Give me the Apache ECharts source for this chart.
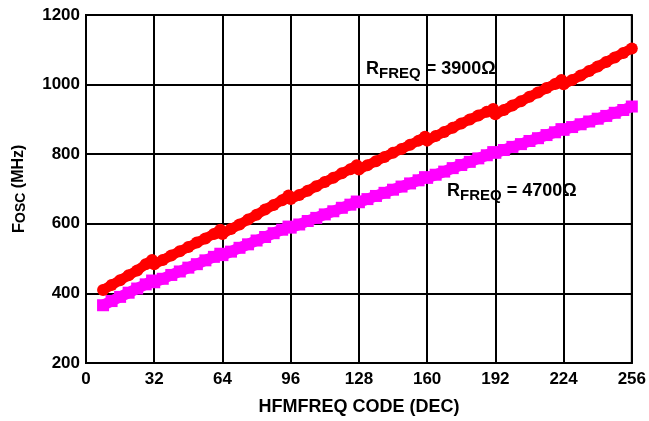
<!DOCTYPE html>
<html>
<head>
<meta charset="utf-8">
<script src="https://cdn.jsdelivr.net/npm/echarts@6/dist/echarts.min.js"></script>
<style>
html,body{margin:0;padding:0;background:#fff;}
#chart{width:649px;height:421px;}
</style>
</head>
<body>
<div id="chart"></div>
<script>
// HFMFREQ code values (DEC)
var codesR3900 = [8,12,16,20,24,28,31,32,36,40,44,48,52,56,60,63,64,68,72,76,80,84,88,92,95,96,100,104,108,112,116,120,124,127,128,132,136,140,144,148,152,156,159,160,164,168,172,176,180,184,188,191,192,196,200,204,208,212,216,220,223,224,228,232,236,240,244,248,252,256];
var fosc3900 = [410,424,438,452,466,484,496,484,496,509,521,533,546,558,571,583,571,585,598,612,626,641,654,668,681,671,683,695,708,720,732,745,757,768,756,768,780,792,804,815,827,839,850,839,852,864,876,888,900,911,922,930,915,927,940,952,965,977,990,1002,1013,1001,1013,1026,1039,1052,1065,1078,1091,1104];
var codesR4700 = [8,12,16,20,24,28,31,32,36,40,44,48,52,56,60,63,64,68,72,76,80,84,88,92,95,96,100,104,108,112,116,120,124,127,128,132,136,140,144,148,152,156,159,160,164,168,172,176,180,184,188,191,192,196,200,204,208,212,216,220,223,224,228,232,236,240,244,248,252,256];
var fosc4700 = [366,378,390,402,414,426,437,432,442,453,463,474,484,495,505,514,510,520,531,541,552,562,573,583,592,589,598,608,617,627,636,646,655,664,662,671,680,689,698,707,716,725,734,732,741,750,760,769,778,788,797,806,804,812,821,829,838,846,855,863,872,870,878,886,894,902,910,919,927,937];
var xTicks = [0,32,64,96,128,160,192,224,256];
var yTicks = [200,400,600,800,1000,1200];

function pairs(xs, ys){ return xs.map(function(x,i){ return [x, ys[i]]; }); }

var FONT = '"Liberation Sans", Arial, sans-serif';
var chart = echarts.init(document.getElementById('chart'), null, {renderer:'canvas'});
chart.setOption({
  animation:false,
  backgroundColor:'#ffffff',
  grid:{left:86,right:14,top:15,bottom:58,show:true,borderColor:'#000',borderWidth:2,backgroundColor:'transparent'},
  xAxis:{
    type:'value', min:xTicks[0], max:xTicks[xTicks.length-1], interval:32,
    name:'HFMFREQ CODE (DEC)', nameLocation:'middle', nameGap:35,
    nameTextStyle:{fontFamily:FONT,fontWeight:'bold',fontSize:18,color:'#000'},
    axisLine:{show:true,lineStyle:{color:'#000',width:2}},
    axisTick:{show:false},
    axisLabel:{fontFamily:FONT,fontWeight:'bold',fontSize:17,color:'#000',margin:8},
    splitLine:{show:true,lineStyle:{color:'#000',width:2}}
  },
  yAxis:{
    type:'value', min:yTicks[0], max:yTicks[yTicks.length-1], interval:200,
    name:'{F|F}{s|OSC}{u| (MHz)}', nameLocation:'middle', nameGap:58, nameRotate:90,
    nameTextStyle:{fontFamily:FONT,fontWeight:'bold',fontSize:16,color:'#000',
      rich:{
        F:{fontFamily:FONT,fontWeight:'bold',fontSize:17,color:'#000',lineHeight:17,verticalAlign:'top'},
        s:{fontFamily:FONT,fontWeight:'bold',fontSize:14,color:'#000',lineHeight:17,padding:[3,0,0,0],verticalAlign:'top'},
        u:{fontFamily:FONT,fontWeight:'bold',fontSize:16,color:'#000',lineHeight:17,verticalAlign:'top'}
      }},
    axisLine:{show:true,lineStyle:{color:'#000',width:2}},
    axisTick:{show:false},
    axisLabel:{fontFamily:FONT,fontWeight:'bold',fontSize:17,color:'#000',margin:6,
      formatter:function(v){ return String(v); }},
    splitLine:{show:true,lineStyle:{color:'#000',width:2}}
  },
  series:[
    {
      name:'RFREQ = 4700', type:'line', data:pairs(codesR4700, fosc4700),
      symbol:'rect', symbolSize:12, showSymbol:true,
      itemStyle:{color:'#ff00ff'}, lineStyle:{color:'#ff00ff',width:11}, z:3
    },
    {
      name:'RFREQ = 3900', type:'line', data:pairs(codesR3900, fosc3900),
      symbol:'circle', symbolSize:12, showSymbol:true,
      itemStyle:{color:'#ff0000'}, lineStyle:{color:'#ff0000',width:10}, z:4
    }
  ],
  graphic:[
    {type:'text', left:366, top:60, z:10,
      style:{text:'{a|R}{s|FREQ}{a| = 3900Ω}', font:'bold 18px '+FONT, fill:'#000',
        rich:{
          a:{fontFamily:FONT,fontWeight:'bold',fontSize:18,fill:'#000',lineHeight:18,verticalAlign:'top'},
          s:{fontFamily:FONT,fontWeight:'bold',fontSize:15,fill:'#000',lineHeight:18,padding:[6,0,0,0],verticalAlign:'top'}
        }}},
    {type:'text', left:447, top:182, z:10,
      style:{text:'{a|R}{s|FREQ}{a| = 4700Ω}', font:'bold 18px '+FONT, fill:'#000',
        rich:{
          a:{fontFamily:FONT,fontWeight:'bold',fontSize:18,fill:'#000',lineHeight:18,verticalAlign:'top'},
          s:{fontFamily:FONT,fontWeight:'bold',fontSize:15,fill:'#000',lineHeight:18,padding:[6,0,0,0],verticalAlign:'top'}
        }}}
  ]
});
</script>
</body>
</html>
